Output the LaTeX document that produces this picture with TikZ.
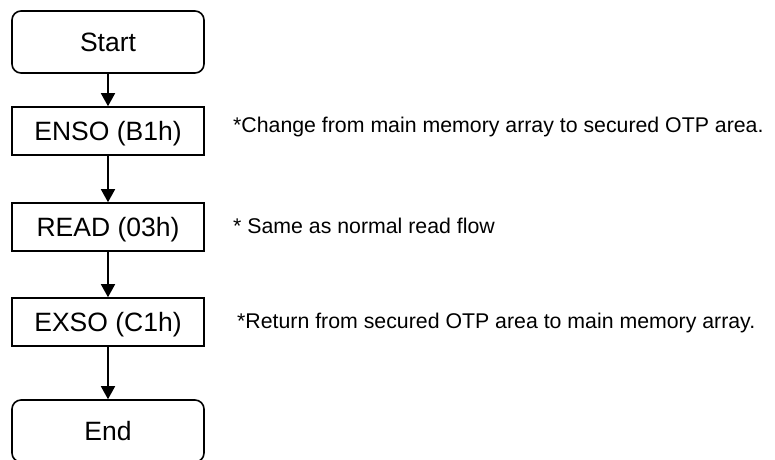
\documentclass[tikz,border=0pt]{standalone}
\usepackage{fontspec}
\setmainfont{Liberation Sans}
\usetikzlibrary{arrows.meta}
\begin{document}
\begin{tikzpicture}[x=1pt,y=-1pt,
  box/.style={draw=black,line width=1.6pt,minimum width=192pt,inner sep=0pt,
    font=\fontsize{26.5}{30}\selectfont,text height=19pt,text depth=0pt},
  termbox/.style={box,rounded corners=9pt,minimum height=62pt},
  procbox/.style={box,minimum height=48pt},
  note/.style={anchor=base west,inner sep=0pt,font=\fontsize{21.3}{24}\selectfont},
  flow/.style={line width=1.6pt,-{Triangle[width=14pt,length=13pt]}}]
\useasboundingbox (0,0) rectangle (775,459);
\clip (0,0) rectangle (775,459);
\node[termbox] (start) at (108,42) {Start};
\node[procbox] (enso) at (108,131) {ENSO (B1h)};
\node[procbox] (read) at (108,227) {READ (03h)};
\node[procbox] (exso) at (108,322) {EXSO (C1h)};
\node[termbox] (end) at (108,431) {End};
\draw[flow] (start) -- (enso);
\draw[flow] (enso) -- (read);
\draw[flow] (read) -- (exso);
\draw[flow] (exso) -- (end);
\node[note] (n1) at (233,132) {*Change from main memory array to secured OTP area.};
\node[note] (n2) at (233,233) {* Same as normal read flow};
\node[note] (n3) at (237,328) {*Return from secured OTP area to main memory array.};
\end{tikzpicture}
\end{document}
